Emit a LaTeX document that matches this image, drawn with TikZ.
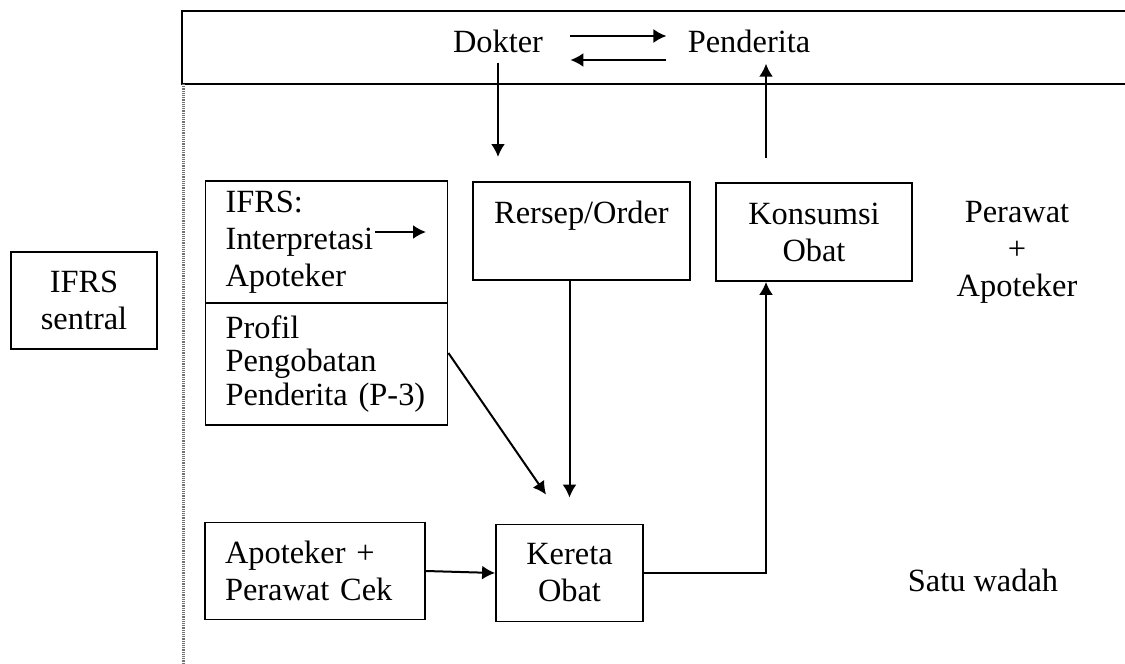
\documentclass[tikz,border=0pt]{standalone}
\usepackage{fontspec}
\setmainfont{Liberation Serif}
\usetikzlibrary{arrows.meta,calc}
\begin{document}
\begin{tikzpicture}[x=0.5pt,y=-0.5pt,
  every node/.style={font=\fontsize{16.2}{18.5}\selectfont},
  box/.style={draw, line width=0.9pt, inner sep=0pt, align=center},
  lbox/.style={draw, line width=0.9pt, inner xsep=10pt, inner ysep=0pt, align=left},
  lbl/.style={inner sep=0pt, align=center},
  arr/.style={line width=1pt, -{Latex[length=6.5pt,width=7pt]}},
  frame/.style={line width=1pt},
]
\useasboundingbox (0,0) rectangle (1125,664);

% ward frame: top band and dotted boundary
\draw[frame] (1125,11) -- (182,11) -- (182,84) -- (1125,84);
\draw[black!55, line width=1.5pt, dash pattern=on 0.6pt off 0.5pt] (183,84) -- (183,664);

% top band
\node[lbl, anchor=base] (dok) at (498,53) {Dokter};
\node[lbl, anchor=base] (pen) at (749,53) {Penderita};
\draw[arr, shorten <=13.5pt, shorten >=10.5pt] ([yshift=8.5pt]dok.base east) -- ([yshift=8.5pt]pen.base west);
\draw[arr, shorten <=10.5pt, shorten >=13.5pt] ([yshift=-3.5pt]pen.base west) -- ([yshift=-3.5pt]dok.base east);

% boxes
\node[lbox, minimum width=121pt, minimum height=61pt, text width=101pt] (ifrs) at (326.5,242) {IFRS:\\Interpretasi\\Apoteker};
\node[lbox, minimum width=121pt, minimum height=61pt, text width=101pt, font=\fontsize{16.2}{16.8}\selectfont] (prof) at (326.5,364) {Profil\\Pengobatan\\Penderita (P-3)};
\node[box, minimum width=108.5pt, minimum height=49pt] (rsp) at (581.5,231) {Rersep/Order\\\phantom{O}};
\node[box, minimum width=98pt, minimum height=49pt] (kon) at (814,232) {Konsumsi\\Obat};
\node[box, minimum width=73pt, minimum height=48.5pt] (sen) at (84,300.5) {IFRS\\sentral};
\node[lbox, minimum width=110pt, minimum height=48.5pt, text width=90pt] (cek) at (315,571) {Apoteker +\\Perawat Cek};
\node[box, minimum width=73.5pt, minimum height=48.5pt] (ker) at (569.5,573) {Kereta\\Obat};
\node[lbl] (pa) at (1017,252) {Perawat\\+\\Apoteker};
\node[lbl] (sw) at (983,580) {Satu wadah};

% free ends
\coordinate (rin) at (498,157);
\coordinate (kout) at (766,158);
\coordinate (ia) at (375,232);
\coordinate (ib) at (426,232);

% connectors
\draw[arr, shorten <=4.5pt] (dok.south) -- (rin);
\draw[arr, shorten >=5pt] (kout) -- (kout |- pen.south);
\draw[arr] (ia) -- (ib);
\draw[arr, shorten >=13pt] (ker.north |- rsp.south) -- (ker.north);
\draw[arr] ([yshift=5.5pt]prof.east) -- ([xshift=-11.75pt,yshift=14.5pt]ker.north);
\draw[arr] (cek.east) -- (ker.west);
\draw[arr] (ker.east) -| ([xshift=-24pt]kon.south);
\end{tikzpicture}
\end{document}
